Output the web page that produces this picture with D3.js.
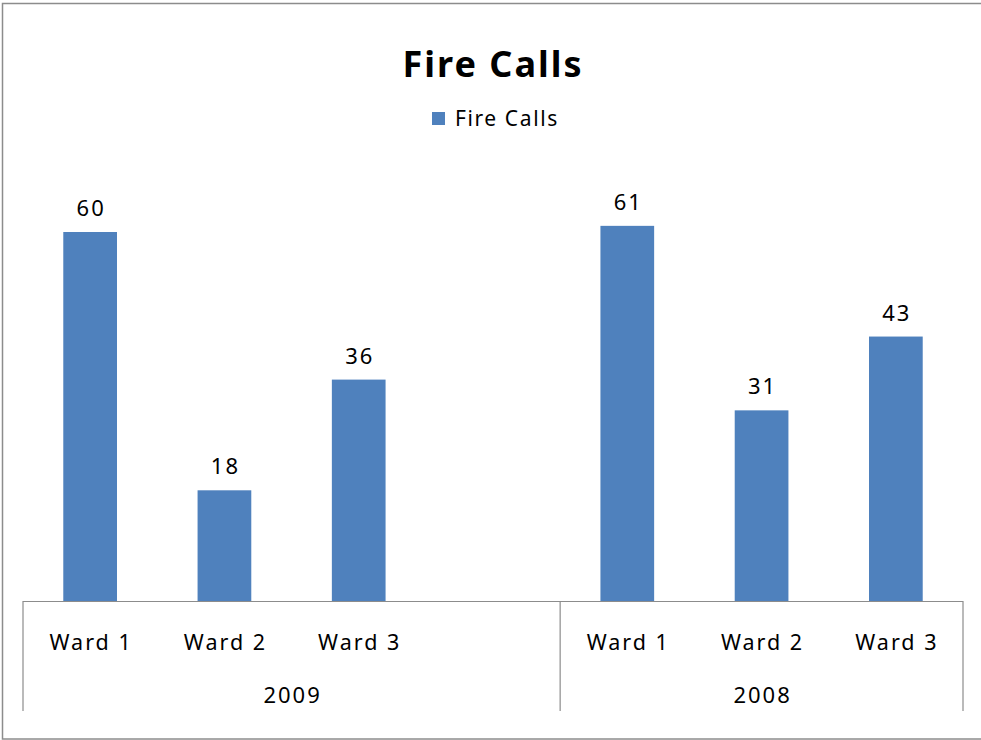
<!DOCTYPE html>
<html>
<head>
<meta charset="utf-8">
<script src="https://cdn.jsdelivr.net/npm/d3@7"></script>
<style>
  body { margin: 0; background: #fff; }
  text { font-family: "Noto Sans", "Open Sans", sans-serif; fill: #000; }
</style>
</head>
<body>
<div id="chart"></div>
<script>
// Data
var years = ["2009", "2008"];
var wards = ["Ward 1", "Ward 2", "Ward 3"];
var values2009 = [60, 18, 36];
var values2008 = [61, 31, 43];
var seriesName = "Fire Calls";

// 2009 group has an extra empty slot, as in the original sheet
var groups = [
  {year: years[0], labels: wards.concat([""]), values: values2009.concat([null])},
  {year: years[1], labels: wards, values: values2008}
];

var cats = [];
groups.forEach(function(g) {
  g.labels.forEach(function(l, i) {
    cats.push({key: g.year + "|" + i, label: l, value: g.values[i], year: g.year});
  });
});

var width = 981, height = 740;
var svg = d3.select("#chart").append("svg")
    .attr("width", width)
    .attr("height", height);

// outer border
svg.append("rect")
    .attr("x", 2.5).attr("y", 3.5)
    .attr("width", 985).attr("height", 735.5)
    .attr("fill", "none")
    .attr("stroke", "#8c8c8c")
    .attr("stroke-width", 1.5);

var x = d3.scaleBand()
    .domain(cats.map(function(d) { return d.key; }))
    .range([23, 963])
    .paddingInner(0.6)
    .paddingOuter(0.3);

var y = d3.scaleLinear()
    .domain([0, 70])
    .range([601, 170.5]);

// title
svg.append("text")
    .attr("x", 493).attr("y", 77)
    .attr("text-anchor", "middle")
    .style("font-size", "36px")
    .style("font-weight", "bold")
    .style("letter-spacing", "2px")
    .text("Fire Calls");

// legend
svg.append("rect")
    .attr("x", 432).attr("y", 112)
    .attr("width", 13).attr("height", 13)
    .attr("fill", "#4f81bd");
svg.append("text")
    .attr("x", 455).attr("y", 126)
    .style("font-size", "21px")
    .style("letter-spacing", "1.6px")
    .text(seriesName);

// bars
var barData = cats.filter(function(d) { return d.value != null; });
svg.selectAll("rect.bar")
    .data(barData)
    .enter()
    .append("rect")
    .attr("class", "bar")
    .attr("x", function(d) { return x(d.key); })
    .attr("y", function(d) { return y(d.value); })
    .attr("width", x.bandwidth())
    .attr("height", function(d) { return y(0) - y(d.value); })
    .attr("fill", "#4f81bd");

// value labels
svg.selectAll("text.val")
    .data(barData)
    .enter()
    .append("text")
    .attr("class", "val")
    .attr("x", function(d) { return x(d.key) + x.bandwidth() / 2 + 1; })
    .attr("y", function(d) { return y(d.value) - 16; })
    .attr("text-anchor", "middle")
    .style("font-size", "22px")
    .style("letter-spacing", "2px")
    .text(function(d) { return d.value; });

// category axis
var axis = svg.append("g");
axis.append("line")
    .attr("x1", x.range()[0]).attr("x2", x.range()[1])
    .attr("y1", y(0) + 0.5).attr("y2", y(0) + 0.5)
    .attr("stroke", "#8c8c8c").attr("stroke-width", 1.2);

var bounds = [0];
var n = 0;
groups.forEach(function(g) { n += g.labels.length; bounds.push(n); });
axis.selectAll("line.sep")
    .data(bounds)
    .enter()
    .append("line")
    .attr("class", "sep")
    .attr("x1", function(d) { return x.range()[0] + d * x.step(); })
    .attr("x2", function(d) { return x.range()[0] + d * x.step(); })
    .attr("y1", y(0))
    .attr("y2", 711)
    .attr("stroke", "#8c8c8c").attr("stroke-width", 1.2);

axis.selectAll("text.cat")
    .data(cats)
    .enter()
    .append("text")
    .attr("class", "cat")
    .attr("x", function(d) { return x(d.key) + x.bandwidth() / 2 + 1; })
    .attr("y", 650)
    .attr("text-anchor", "middle")
    .style("font-size", "21.5px")
    .style("letter-spacing", "2px")
    .text(function(d) { return d.label; });

var start = 0;
groups.forEach(function(g) {
  var len = g.labels.length;
  axis.append("text")
      .attr("x", x.range()[0] + (start + len / 2) * x.step() + 1)
      .attr("y", 703)
      .attr("text-anchor", "middle")
      .style("font-size", "22px")
      .style("letter-spacing", "2px")
      .text(g.year);
  start += len;
});
</script>
</body>
</html>
